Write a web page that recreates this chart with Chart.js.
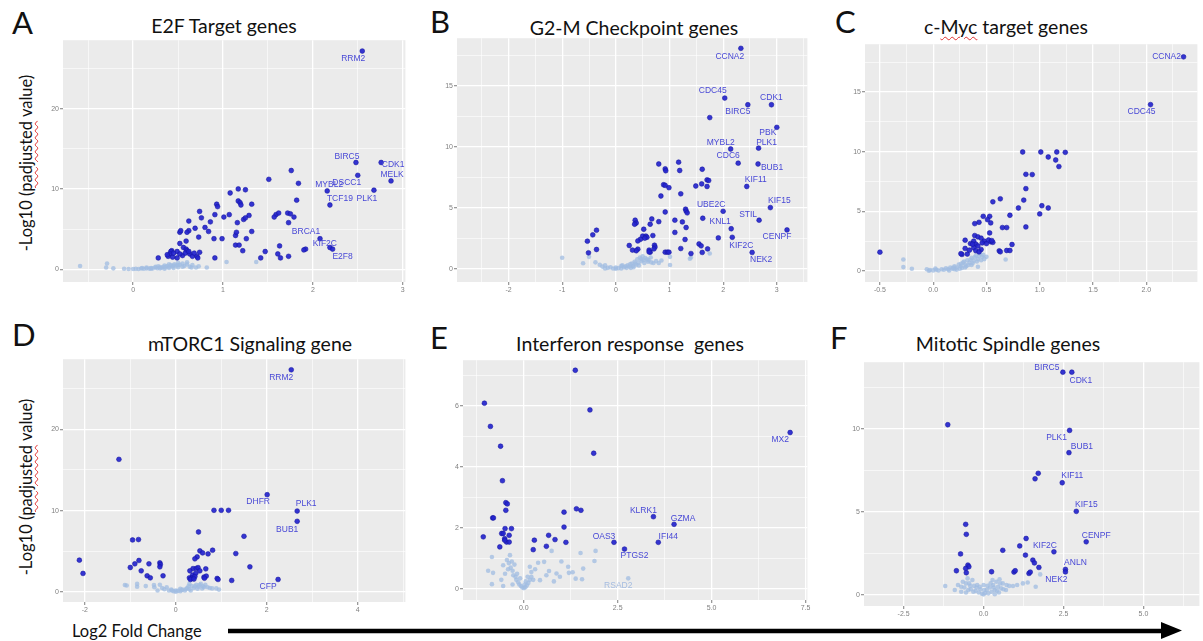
<!DOCTYPE html>
<html>
<head>
<meta charset="utf-8">
<script src="https://cdn.jsdelivr.net/npm/chart.js@4.4.1/dist/chart.umd.min.js"></script>
<style>
  html, body { margin: 0; padding: 0; background: #fff; }
  #fig { position: relative; width: 1203px; height: 641px; overflow: hidden; font-family: Lato, "Open Sans", sans-serif; color: #111; }
  .letter { position: absolute; font-size: 31px; line-height: 1; }
  .title { position: absolute; font-size: 19.5px; line-height: 1; white-space: pre; transform: translateX(-50%); }
  .ylab { position: absolute; font-size: 16.5px; line-height: 1; white-space: nowrap; transform: translate(-50%, -50%) rotate(-90deg); }
  .xlab { position: absolute; font-size: 16.5px; line-height: 1; white-space: nowrap; }
  .squiggle { text-decoration: underline wavy #e03030; text-decoration-thickness: 1px; text-underline-offset: 2px; }
</style>
</head>
<body>
<div id="fig">
  <div class="letter" style="left:12px;top:7px">A</div>
  <div class="letter" style="left:430px;top:6px">B</div>
  <div class="letter" style="left:835px;top:6px">C</div>
  <div class="letter" style="left:12px;top:319px">D</div>
  <div class="letter" style="left:430px;top:322px">E</div>
  <div class="letter" style="left:830px;top:322px">F</div>

  <div class="title" style="left:224px;top:16px">E2F Target genes</div>
  <div class="title" style="left:634px;top:18px">G2-M Checkpoint genes</div>
  <div class="title" style="left:1006px;top:17px">c-<span class="squiggle">Myc</span> target genes</div>
  <div class="title" style="left:250px;top:334px">mTORC1 Signaling gene</div>
  <div class="title" style="left:630px;top:334px">Interferon response  genes</div>
  <div class="title" style="left:1008px;top:334px">Mitotic Spindle genes</div>

  <div class="ylab" style="left:26px;top:163px">-Log10 (<span class="squiggle">padjusted</span> value)</div>
  <div class="ylab" style="left:26px;top:487px">-Log10 (<span class="squiggle">padjusted</span> value)</div>

  <div class="xlab" style="left:72px;top:623px">Log2 Fold Change</div>
  <svg style="position:absolute;left:0;top:0" width="1203" height="641">
    <line x1="228" y1="631" x2="1164" y2="631" stroke="#000" stroke-width="4.5"/>
    <polygon points="1161,622 1182,630.5 1161,639" fill="#000"/>
  </svg>
</div>

<script>
// ---- data: [log2FC, -log10 padj] ----

// A: E2F targets
const e2fSig = [[1.76,12.3],[1.51,11.2],[1.84,10.7],[1.17,10.0],[1.25,9.9],[1.08,9.5],[1.17,8.5],[1.19,8.3],[1.82,8.6],[0.93,8.1],[0.94,7.8],[1.2,8.0],[1.32,8.1],[0.74,7.2],[1.59,6.8],[1.62,7.0],[1.57,6.5],[1.72,7.0],[1.75,6.9],[1.79,6.5],[0.76,6.4],[0.91,6.8],[1.01,6.5],[1.07,6.8],[1.29,6.7],[0.62,6.0],[0.86,5.9],[1.16,5.8],[1.23,6.2],[1.25,6.4],[1.73,5.8],[0.8,5.2],[0.69,5.1],[0.62,4.8],[0.6,4.6],[0.73,4.0],[0.52,4.6],[0.53,4.8],[0.84,4.7],[0.9,3.8],[0.99,3.8],[1.14,4.2],[1.15,4.6],[1.26,3.8],[1.32,4.7],[0.59,3.5],[0.52,3.2],[1.14,3.0],[1.18,3.0],[1.22,2.3],[1.47,2.2],[1.63,2.9],[1.61,1.9],[1.64,1.4],[1.73,1.6],[1.42,1.4],[1.92,2.5],[1.9,2.4],[0.43,2.3],[0.42,2.2],[0.41,1.9],[0.49,2.2],[0.56,2.7],[0.59,2.5],[0.6,2.3],[0.55,1.7],[0.49,1.4],[0.63,1.9],[0.66,1.6],[0.71,1.6],[0.72,1.4],[0.74,2.1],[0.91,1.4],[0.28,1.4],[0.39,1.6],[0.44,1.5],[0.45,2.0],[0.52,1.9],[0.58,2.0],[0.62,2.2],[0.68,2.0],[0.38,1.8]];
const e2fNs = [[-0.59,0.4],[-0.29,0.7],[-0.3,0.2],[-0.22,0.1],[-0.1,0.05],[-0.05,0.02],[0,0.03],[0.03,0.05],[0.06,0.02],[0.09,0.08],[0.12,0.05],[0.15,0.1],[0.18,0.07],[0.2,0.15],[0.22,0.1],[0.25,0.2],[0.27,0.12],[0.3,0.25],[0.32,0.18],[0.34,0.3],[0.36,0.22],[0.38,0.4],[0.4,0.3],[0.42,0.5],[0.44,0.35],[0.46,0.6],[0.48,0.45],[0.5,0.8],[0.52,0.55],[0.55,0.7],[0.57,0.4],[0.6,0.6],[0.63,0.3],[0.66,0.5],[0.7,0.2],[0.73,0.35],[0.82,0.2],[1.04,0.9],[1.37,0.9],[0.35,0.05],[0.45,0.15],[0.28,0.35],[0.5,0.25],[0.15,0.2],[0.1,0.15],[0.2,0.05],[0.3,0.1],[0.4,0.15],[0.45,0.45],[0.55,0.3],[0.6,0.85],[0.65,0.2],[0.5,0.5],[0.4,0.6],[0.35,0.45],[0.25,0.3]];
const e2fGenes = [['RRM2',2.55,27.2],['BIRC5',2.48,13.3],['CDK1',2.76,13.3],['MELK',2.87,11.0],['DSCC1',2.5,11.7],['MYBL2',2.16,9.75],['PLK1',2.68,9.85],['TCF19',2.19,8.0],['BRCA1',2.08,3.8],['KIF2C',2.19,2.7],['E2F8',2.22,2.5]];

// B: G2-M checkpoint
const g2mSig = [[1.75,12.4],[0.8,8.6],[0.92,8.2],[0.93,8.05],[1.17,8.75],[1.19,8.07],[1.61,8.17],[0.89,6.9],[0.92,6.85],[0.99,6.66],[0.84,5.98],[1.21,6.16],[1.49,6.8],[1.6,6.97],[1.7,7.3],[1.73,7.25],[1.7,6.76],[0.92,4.67],[1.3,4.9],[1.31,4.75],[1.33,4.6],[1.1,4.0],[1.24,3.86],[1.31,3.4],[1.62,4.16],[1.91,2.55],[1.1,3.0],[1.29,2.42],[1.55,2.05],[1.59,1.9],[1.61,1.36],[1.71,1.65],[1.4,1.27],[1.21,1.68],[0.92,1.38],[0.96,1.38],[0.99,1.38],[0.64,1.38],[0.72,1.95],[0.73,1.8],[0.71,1.65],[0.62,1.55],[0.62,1.4],[0.69,2.74],[0.5,2.7],[0.56,2.7],[0.58,2.6],[0.54,2.53],[0.46,2.44],[0.41,2.3],[0.64,3.67],[0.67,4.1],[0.8,3.88],[0.36,4.0],[0.38,3.77],[0.35,3.67],[0.52,3.26],[0.25,1.93],[0.41,1.63],[0.38,1.5],[0.31,1.55],[-0.36,3.18],[-0.43,2.8],[-0.53,2.28],[-0.51,1.33],[-0.36,1.6]];
const g2mNs = [[-1.0,0.92],[-0.61,0.48],[-0.5,1.0],[-0.38,0.55],[-0.3,0.35],[-0.25,0.2],[-0.2,0.3],[-0.15,0.1],[-0.1,0.15],[-0.05,0.05],[0,0.02],[0.05,0.08],[0.1,0.05],[0.15,0.15],[0.2,0.1],[0.22,0.3],[0.25,0.2],[0.3,0.45],[0.32,0.25],[0.35,0.6],[0.38,0.35],[0.4,0.8],[0.42,0.5],[0.45,0.95],[0.48,0.65],[0.5,1.05],[0.52,0.75],[0.55,0.9],[0.6,0.6],[0.61,0.73],[0.7,0.5],[0.8,0.49],[0.85,0.7],[1.01,0.33],[1.01,1.0],[1.38,0.84],[1.4,0.95],[1.75,1.27],[-0.2,0.05],[0.1,0.25],[0.28,0.1],[0.65,0.95],[0.0,0.12],[0.12,0.3],[0.18,0.22],[0.27,0.4],[0.33,0.15],[0.43,0.3],[0.47,0.8],[0.53,0.5],[0.58,0.8],[0.66,0.55],[0.75,0.65],[0.36,0.45]];
const g2mGenes = [['CCNA2',2.33,18.07],['CDC45',2.03,14.0],['BIRC5',2.46,13.45],['CDK1',2.9,13.45],['PBK',3.0,11.6],['MYBL2',2.14,9.83],['PLK1',2.66,9.9],['CDC6',2.28,8.67],['BUB1',2.65,8.6],['KIF11',2.44,6.76],['KIF15',2.88,5.03],['UBE2C',2.0,4.73],['STIL',2.67,4.0],['KNL1',2.15,3.3],['CENPF',3.19,3.2],['KIF2C',2.17,2.6],['NEK2',2.54,1.36]];

// C: c-Myc targets
const mycSig = [[0.84,9.97],[1.01,9.97],[1.16,9.97],[1.24,9.94],[1.08,9.55],[1.15,9.3],[1.18,8.75],[0.87,8.1],[0.93,8.08],[0.87,6.9],[0.63,6.05],[0.56,5.8],[0.85,5.94],[0.8,5.28],[1.02,5.47],[1.08,5.28],[1.0,4.78],[0.72,4.67],[0.87,3.69],[0.65,3.64],[0.69,3.64],[0.47,4.58],[0.53,4.58],[0.54,4.03],[0.51,4.3],[0.43,4.08],[0.39,3.97],[0.53,3.19],[0.39,2.97],[0.42,2.86],[0.45,2.75],[0.38,2.5],[0.48,2.5],[0.54,2.45],[0.56,2.4],[0.46,2.35],[0.5,2.3],[0.3,2.58],[0.4,2.25],[0.42,2.1],[0.38,1.95],[0.45,1.8],[0.4,1.7],[0.43,1.6],[0.3,1.89],[0.32,1.42],[0.27,1.39],[0.26,1.45],[0.62,1.69],[0.69,1.72],[0.72,1.72],[0.74,2.22],[0.63,1.61],[0.35,2.3],[0.37,2.25],[-0.5,1.58],[0.34,1.75],[0.52,2.6],[0.55,2.55]];
const mycNs = [[-0.28,0.97],[-0.28,0.33],[-0.2,0.19],[-0.06,0.15],[-0.03,0.08],[0.0,0.05],[0.03,0.1],[0.05,0.04],[0.08,0.15],[0.1,0.1],[0.12,0.22],[0.14,0.15],[0.16,0.3],[0.18,0.2],[0.2,0.4],[0.22,0.3],[0.24,0.55],[0.26,0.4],[0.28,0.7],[0.3,0.55],[0.32,0.9],[0.34,0.7],[0.36,1.1],[0.38,0.85],[0.4,1.3],[0.42,1.0],[0.44,1.45],[0.42,0.36],[0.5,1.19],[0.68,0.97],[0.2,0.15],[0.3,0.3],[0.46,1.2],[0.36,0.5],[0.25,0.2],[0.15,0.05],[0.22,0.12],[0.27,0.25],[0.31,0.4],[0.33,0.5],[0.35,0.95],[0.37,0.65],[0.39,1.15],[0.41,0.8],[0.43,1.25],[0.45,0.9],[0.47,1.35],[0.26,0.6],[0.29,0.8],[0.19,0.28],[-0.04,0.02],[0.02,0.2],[0.48,1.0]];
const mycGenes = [['CCNA2',2.35,17.94],['CDC45',2.04,13.94]];

// D: mTORC1 signaling
const mtorSig = [[-1.25,16.3],[0.84,10.04],[1.0,10.04],[1.16,10.04],[0.5,7.38],[1.5,6.85],[-0.95,6.4],[-0.82,6.45],[0.81,5.14],[0.53,5.06],[0.59,4.81],[0.71,4.69],[0.47,4.32],[0.42,4.08],[1.32,4.73],[-2.12,3.92],[-2.04,2.29],[-0.81,3.88],[-0.9,3.47],[-1.0,3.02],[-0.76,2.61],[-0.59,3.47],[-0.35,3.59],[-0.34,3.39],[-0.35,3.1],[-0.63,2.0],[-0.56,1.75],[-0.28,2.0],[1.63,3.1],[0.66,2.85],[0.38,2.88],[0.45,2.9],[0.49,3.0],[0.53,2.61],[0.31,2.61],[0.37,2.08],[0.44,2.3],[0.3,1.75],[0.34,1.65],[0.38,1.8],[0.42,1.9],[0.62,1.84],[0.67,1.96],[0.63,1.7],[0.91,1.67],[0.93,1.55],[1.23,1.43],[0.32,1.55],[0.4,1.6]];
const mtorNs = [[-1.12,0.86],[-1.08,0.8],[-0.85,1.0],[-0.85,0.65],[-0.66,0.73],[-0.48,0.86],[-0.47,0.6],[-0.35,0.9],[-0.3,0.5],[-0.25,0.35],[-0.2,0.6],[-0.15,0.2],[-0.1,0.3],[-0.05,0.1],[0,0.05],[0.05,0.15],[0.1,0.1],[0.15,0.3],[0.2,0.2],[0.25,0.5],[0.3,0.35],[0.35,0.75],[0.4,0.5],[0.45,0.9],[0.5,0.65],[0.55,1.0],[0.6,0.7],[0.7,0.6],[0.8,0.45],[0.89,0.45],[0.95,0.3],[-0.4,0.2],[0.1,0.4],[0.3,1.0],[0.65,0.9],[0.0,0.2],[0.12,0.25],[0.22,0.35],[0.28,0.7],[0.33,0.2],[0.42,0.7],[0.48,0.4],[0.52,0.85],[0.58,0.45],[0.62,0.6],[0.75,0.5],[-0.08,0.2]];
const mtorGenes = [['RRM2',2.54,27.3],['DHFR',2.01,11.96],['PLK1',2.67,9.95],['BUB1',2.67,8.69],['CFP',2.25,1.55]];

// E: interferon response
const ifnSig = [[1.37,7.17],[-1.05,6.09],[1.76,5.87],[-0.89,5.33],[-0.62,4.68],[1.86,4.45],[-0.57,3.55],[-0.48,2.83],[-0.44,2.79],[-0.48,2.58],[-0.83,2.33],[-0.81,2.33],[1.07,2.52],[1.4,2.63],[1.52,2.58],[1.07,2.03],[-0.33,1.98],[-0.5,1.98],[-0.59,1.82],[-0.55,1.82],[-0.39,1.76],[-0.51,1.65],[-0.46,1.54],[-0.39,1.54],[-0.51,1.6],[-1.08,1.71],[-0.64,1.38],[0.66,1.76],[0.83,1.62],[0.28,1.6],[1.12,1.53],[0.25,1.29],[0.6,1.4]];
const ifnNs = [[-0.85,1.05],[-0.37,1.11],[-0.55,0.78],[-0.95,0.6],[-0.82,0.53],[-0.85,0.16],[-0.55,0.1],[-0.45,0.95],[-0.4,0.85],[-0.35,0.7],[-0.3,0.6],[-0.28,0.45],[-0.22,0.4],[-0.2,0.3],[-0.15,0.22],[-0.12,0.15],[-0.08,0.1],[-0.04,0.05],[0,0.03],[0.04,0.06],[0.08,0.12],[0.12,0.2],[0.16,0.3],[0.2,0.4],[0.16,0.73],[0.2,0.56],[0.38,0.86],[0.54,0.89],[0.67,0.59],[0.74,1.25],[0.87,0.51],[0.96,0.4],[1.18,0.73],[1.2,0.53],[1.38,0.34],[1.55,0.32],[1.58,0.67],[1.51,1.18],[1.91,1.25],[1.88,0.92],[0.43,0.29],[-0.3,0.15],[0.05,0.25],[-0.18,0.5],[1.0,0.9],[0.6,0.45],[-0.5,0.5],[-0.42,0.65],[-0.32,0.9],[-0.25,0.8],[-0.1,0.35],[0.02,0.15],[0.1,0.4],[0.25,0.3],[0.3,0.65],[-0.6,0.3],[0.8,0.25],[1.3,0.55]];
const ifnGenes = [['MX2',7.09,5.13],['KLRK1',3.45,2.37],['GZMA',4.0,2.12],['OAS3',2.4,1.53],['IFI44',3.58,1.53],['PTGS2',2.68,1.31]];
const ifnFaintGenes = [['RSAD2',2.78,0.35]];

// F: mitotic spindle
const spindleSig = [[-1.12,10.24],[1.71,7.32],[1.61,6.99],[-0.56,4.25],[-0.54,3.65],[-0.72,2.47],[-0.85,1.46],[-0.49,1.8],[-0.46,1.7],[-0.56,1.6],[-0.54,1.34],[0.25,1.4],[0.6,2.69],[0.95,1.38],[0.99,1.46],[1.13,2.95],[1.33,3.4],[1.31,2.4],[1.54,2.1],[1.59,1.93],[1.73,1.66],[1.42,1.3],[1.46,1.38]];
const spindleNs = [[-1.2,0.54],[-0.9,0.3],[-0.8,0.6],[-0.7,0.2],[-0.65,0.8],[-0.6,0.45],[-0.5,1.0],[-0.45,0.7],[-0.4,0.35],[-0.35,0.9],[-0.3,0.55],[-0.25,0.25],[-0.2,0.6],[-0.15,0.15],[-0.1,0.35],[-0.05,0.08],[0,0.04],[0.05,0.12],[0.1,0.3],[0.15,0.1],[0.2,0.45],[0.25,0.2],[0.3,0.6],[0.35,0.3],[0.4,0.8],[0.45,0.5],[0.5,0.95],[0.55,0.4],[0.6,0.7],[0.7,0.3],[0.8,0.55],[0.92,0.54],[1.05,0.6],[1.23,0.7],[1.38,0.75],[1.63,0.5],[1.77,1.24],[-0.55,0.15],[0.0,0.6],[0.35,0.05],[-0.7,0.5],[-0.55,0.7],[-0.42,0.55],[-0.32,0.2],[-0.22,0.45],[-0.12,0.5],[0.02,0.3],[0.12,0.55],[0.22,0.7],[0.32,0.45],[0.42,0.25],[0.52,0.7],[0.62,0.35],[0.72,0.6],[0.48,0.15],[-0.48,0.3],[0.28,0.9]];
const spindleGenes = [['BIRC5',2.48,13.4],['CDK1',2.76,13.4],['PLK1',2.69,9.9],['BUB1',2.67,8.56],['KIF11',2.46,6.75],['KIF15',2.9,5.03],['CENPF',3.21,3.2],['KIF2C',2.2,2.6],['ANLN',2.56,1.54],['NEK2',2.56,1.39]];

// ---- styling ----
const SIG = 'rgba(36,36,205,0.92)';
const SIG_EDGE = 'rgba(20,20,160,0.9)';
const NS = 'rgba(160,188,226,0.75)';
const TXT = 'rgb(72,72,214)';
const NS_TXT = 'rgb(165,188,224)';

// label offsets from their point, in px (ggrepel-like placement)
const nudgeA = {RRM2:[-9,8],BIRC5:[-9,-6],CDK1:[12,2],MELK:[1,-6],DSCC1:[-11,7],MYBL2:[2,-6],TCF19:[10,-6],PLK1:[-7,8],BRCA1:[-14,-7],KIF2C:[-5,-4],E2F8:[10,8]};
const nudgeB = {CCNA2:[-11,8],CDC45:[-12,-7],BIRC5:[-10,7],CDK1:[0,-7],PBK:[-9,5],MYBL2:[-10,-6],PLK1:[8,-5],CDC6:[-10,-7],BUB1:[14,4],KIF11:[9,-7],KIF15:[9,-7],UBE2C:[-12,-7],STIL:[-11,-6],KNL1:[-11,-7],CENPF:[-10,7],KIF2C:[9,8],NEK2:[9,7]};
const nudgeC = {CCNA2:[-17,0],CDC45:[-9,7]};
const nudgeD = {RRM2:[-10,8],DHFR:[-9,7],PLK1:[9,-7],BUB1:[-10,8],CFP:[-10,7]};
const nudgeE = {MX2:[-10,7],KLRK1:[-10,-6],GZMA:[9,-6],OAS3:[-10,-6],IFI44:[10,-6],PTGS2:[10,7],RSAD2:[-10,7]};
const nudgeF = {BIRC5:[-16,-5],CDK1:[9,8],PLK1:[-13,7],BUB1:[13,-6],KIF11:[10,-7],KIF15:[10,-7],CENPF:[10,-6],KIF2C:[-9,-6],ANLN:[10,-7],NEK2:[-9,8]};

const fig = document.getElementById('fig');
const toPts = arr => arr.map(([x, y]) => ({x, y}));
const genePts = arr => arr.map(g => [g[1], g[2]]);

const panelBg = {
    id: 'panelBg',
    beforeDraw(chart) {
        const {ctx, chartArea: a} = chart;
        ctx.save();
        ctx.fillStyle = '#ebebeb';
        ctx.fillRect(a.left, a.top, a.width, a.height);
        ctx.restore();
    }
};

const geneLabels = {
    id: 'geneLabels',
    afterDatasetsDraw(chart, args, o) {
        const {ctx, scales: {x, y}} = chart;
        ctx.save();
        ctx.font = '8.5px "Liberation Sans", Arial, sans-serif';
        ctx.textAlign = 'center';
        ctx.textBaseline = 'middle';
        const draw = (list, colour) => list.forEach(([name, gx, gy]) => {
            const [dx, dy] = o.nudge[name] || [0, -8];
            ctx.fillStyle = colour;
            ctx.fillText(name, x.getPixelForValue(gx) + dx, y.getPixelForValue(gy) + dy);
        });
        draw(o.genes, TXT);
        draw(o.faint || [], NS_TXT);
        ctx.restore();
    }
};

function axis(a, horiz) {
    const isMajor = v => Math.abs(v / a.major - Math.round(v / a.major)) < 1e-6;
    const maj = c => c.tick && isMajor(c.tick.value);
    return {
        type: 'linear', min: a.min, max: a.max,
        afterFit: s => { if (horiz) s.height = 14; else s.width = 30; },
        border: {display: false},
        grid: {
            color: '#ffffff',
            lineWidth: c => maj(c) ? 1.3 : 0.6,
            tickColor: c => maj(c) ? '#9a9a9a' : 'rgba(0,0,0,0)',
            tickLength: 3, drawTicks: true
        },
        ticks: {
            stepSize: a.minor, includeBounds: false, autoSkip: false, maxRotation: 0, padding: 1,
            color: '#808080', font: {size: 7, family: '"Liberation Sans", Arial, sans-serif'},
            callback: v => isMajor(v) ? (a.dec ? v.toFixed(a.dec) : String(Math.round(v))) : ''
        }
    };
}

function makePanel(box, d) {
    const cv = document.createElement('canvas');
    const w = box.right - box.left + 38, h = box.bottom - box.top + 18;
    cv.width = w; cv.height = h;
    cv.style.cssText = `position:absolute;left:${box.left - 34}px;top:${box.top - 4}px;width:${w}px;height:${h}px`;
    fig.appendChild(cv);

    new Chart(cv, {
        type: 'scatter',
        data: {
            datasets: [
                {data: toPts(d.sig.concat(genePts(d.genes))), backgroundColor: SIG, borderColor: SIG_EDGE, borderWidth: 0.6, pointRadius: 2.4},
                {data: toPts(d.ns.concat(genePts(d.faint || []))), backgroundColor: NS, borderWidth: 0, pointRadius: 2.3}
            ]
        },
        options: {
            responsive: false, animation: false, events: [],
            layout: {padding: {left: 4, top: 4, right: 4, bottom: 0}},
            plugins: {
                legend: {display: false}, tooltip: {enabled: false},
                geneLabels: {genes: d.genes, faint: d.faint, nudge: d.nudge}
            },
            scales: {x: axis(d.x, true), y: axis(d.y, false)}
        },
        plugins: [panelBg, geneLabels]
    });
}

// axis ranges are kept off exact multiples of the step so Chart.js keeps ticks on round values
makePanel({left: 63, top: 39, right: 406, bottom: 282},
    {sig: e2fSig, ns: e2fNs, genes: e2fGenes, nudge: nudgeA,
     x: {min: -0.78, max: 3.03, major: 1, minor: 0.5}, y: {min: -1.6, max: 28.55, major: 10, minor: 5}});
makePanel({left: 457, top: 37, right: 808, bottom: 282},
    {sig: g2mSig, ns: g2mNs, genes: g2mGenes, nudge: nudgeB,
     x: {min: -2.96, max: 3.57, major: 1, minor: 0.5}, y: {min: -1.06, max: 18.9, major: 5, minor: 2.5}});
makePanel({left: 865, top: 43, right: 1198, bottom: 282},
    {sig: mycSig, ns: mycNs, genes: mycGenes, nudge: nudgeC,
     x: {min: -0.64, max: 2.48, major: 0.5, minor: 0.25, dec: 1}, y: {min: -0.92, max: 19.0, major: 5, minor: 2.5}});
makePanel({left: 63, top: 358, right: 406, bottom: 602},
    {sig: mtorSig, ns: mtorNs, genes: mtorGenes, nudge: nudgeD,
     x: {min: -2.48, max: 5.05, major: 2, minor: 1}, y: {min: -1.22, max: 28.6, major: 10, minor: 5}});
makePanel({left: 463, top: 359, right: 808, bottom: 600},
    {sig: ifnSig, ns: ifnNs, genes: ifnGenes, faint: ifnFaintGenes, nudge: nudgeE,
     x: {min: -1.62, max: 7.55, major: 2.5, minor: 1.25, dec: 1}, y: {min: -0.36, max: 7.5, major: 2, minor: 1}});
makePanel({left: 864, top: 361, right: 1200, bottom: 606},
    {sig: spindleSig, ns: spindleNs, genes: spindleGenes, nudge: nudgeF,
     x: {min: -3.74, max: 6.75, major: 2.5, minor: 1.25, dec: 1}, y: {min: -0.66, max: 14.0, major: 5, minor: 2.5}});
</script>
</body>
</html>
